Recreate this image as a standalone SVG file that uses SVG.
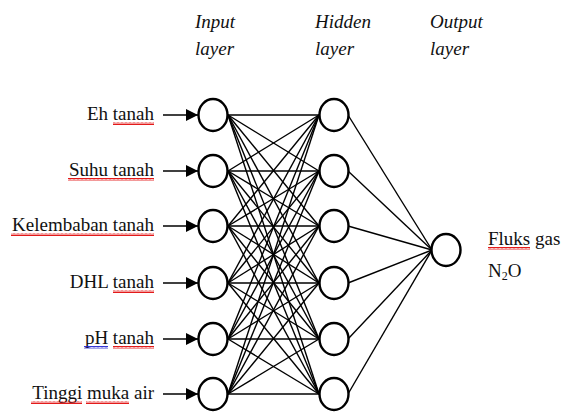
<svg xmlns="http://www.w3.org/2000/svg" width="563" height="415" viewBox="0 0 563 415">
<defs>
<style>
.lbl{font-size:19px;fill:#111;}
.hdr{font-size:19px;font-style:italic;fill:#111;}
.node{fill:#fff;stroke:#000;stroke-width:2.4;}
.conn line{stroke:#000;stroke-width:1.4;}
.arr{stroke:#000;stroke-width:1.6;}
</style>
<marker id="ah" viewBox="0 0 12 12" refX="12" refY="6" markerWidth="12" markerHeight="12" markerUnits="userSpaceOnUse" orient="auto">
<path d="M0,0 L12,6 L0,12 Z" fill="#000"/>
</marker>
<pattern id="wave" width="4" height="3" patternUnits="userSpaceOnUse">
<path d="M0,2.5 L1,0.5 L2,2.5 L3,0.5 L4,2.5" fill="none" stroke="#e00000" stroke-width="0.9"/>
</pattern>
<pattern id="waveb" width="4" height="3" patternUnits="userSpaceOnUse">
<path d="M0,2.5 L1,0.5 L2,2.5 L3,0.5 L4,2.5" fill="none" stroke="#2020d0" stroke-width="0.9"/>
</pattern>
</defs>
<rect width="563" height="415" fill="#fff"/>

<g id="headers" font-family="'Liberation Serif', 'Times New Roman', serif">
<text class="hdr" x="195" y="28">Input</text>
<text class="hdr" x="195" y="55">layer</text>
<text class="hdr" x="315" y="28">Hidden</text>
<text class="hdr" x="315" y="55">layer</text>
<text class="hdr" x="430" y="28">Output</text>
<text class="hdr" x="430" y="55">layer</text>
</g>

<g id="connectors" class="conn">
<line x1="228" y1="115" x2="319" y2="115"/><line x1="228" y1="115" x2="319" y2="171"/><line x1="228" y1="115" x2="319" y2="226"/><line x1="228" y1="115" x2="319" y2="283"/><line x1="228" y1="115" x2="319" y2="339"/><line x1="228" y1="115" x2="319" y2="394"/>
<line x1="228" y1="171" x2="319" y2="115"/><line x1="228" y1="171" x2="319" y2="171"/><line x1="228" y1="171" x2="319" y2="226"/><line x1="228" y1="171" x2="319" y2="283"/><line x1="228" y1="171" x2="319" y2="339"/><line x1="228" y1="171" x2="319" y2="394"/>
<line x1="228" y1="226" x2="319" y2="115"/><line x1="228" y1="226" x2="319" y2="171"/><line x1="228" y1="226" x2="319" y2="226"/><line x1="228" y1="226" x2="319" y2="283"/><line x1="228" y1="226" x2="319" y2="339"/><line x1="228" y1="226" x2="319" y2="394"/>
<line x1="228" y1="283" x2="319" y2="115"/><line x1="228" y1="283" x2="319" y2="171"/><line x1="228" y1="283" x2="319" y2="226"/><line x1="228" y1="283" x2="319" y2="283"/><line x1="228" y1="283" x2="319" y2="339"/><line x1="228" y1="283" x2="319" y2="394"/>
<line x1="228" y1="339" x2="319" y2="115"/><line x1="228" y1="339" x2="319" y2="171"/><line x1="228" y1="339" x2="319" y2="226"/><line x1="228" y1="339" x2="319" y2="283"/><line x1="228" y1="339" x2="319" y2="339"/><line x1="228" y1="339" x2="319" y2="394"/>
<line x1="228" y1="394" x2="319" y2="115"/><line x1="228" y1="394" x2="319" y2="171"/><line x1="228" y1="394" x2="319" y2="226"/><line x1="228" y1="394" x2="319" y2="283"/><line x1="228" y1="394" x2="319" y2="339"/><line x1="228" y1="394" x2="319" y2="394"/>
<line x1="348" y1="115" x2="432" y2="250"/><line x1="348" y1="171" x2="432" y2="250"/><line x1="348" y1="226" x2="432" y2="250"/><line x1="348" y1="283" x2="432" y2="250"/><line x1="348" y1="339" x2="432" y2="250"/><line x1="348" y1="394" x2="432" y2="250"/>
<line class="arr" x1="163" y1="115" x2="198" y2="115" marker-end="url(#ah)"/>
<line class="arr" x1="163" y1="171" x2="198" y2="171" marker-end="url(#ah)"/>
<line class="arr" x1="163" y1="226" x2="198" y2="226" marker-end="url(#ah)"/>
<line class="arr" x1="163" y1="283" x2="198" y2="283" marker-end="url(#ah)"/>
<line class="arr" x1="163" y1="339" x2="198" y2="339" marker-end="url(#ah)"/>
<line class="arr" x1="163" y1="394" x2="198" y2="394" marker-end="url(#ah)"/>
</g>

<g font-family="'Liberation Serif', 'Times New Roman', serif">
<g id="input-1"><text class="lbl" x="154" y="120" text-anchor="end">Eh tanah</text><rect x="113" y="122" width="41" height="3" fill="url(#wave)"/><ellipse class="node" cx="213" cy="115" rx="14.5" ry="16"/></g>
<g id="input-2"><text class="lbl" x="154" y="176" text-anchor="end">Suhu tanah</text><rect x="68" y="178" width="86" height="3" fill="url(#wave)"/><ellipse class="node" cx="213" cy="171" rx="14.5" ry="16"/></g>
<g id="input-3"><text class="lbl" x="154" y="231" text-anchor="end">Kelembaban tanah</text><rect x="11" y="233" width="143" height="3" fill="url(#wave)"/><ellipse class="node" cx="213" cy="226" rx="14.5" ry="16"/></g>
<g id="input-4"><text class="lbl" x="154" y="288" text-anchor="end">DHL tanah</text><rect x="113" y="290" width="41" height="3" fill="url(#wave)"/><ellipse class="node" cx="213" cy="283" rx="14.5" ry="16"/></g>
<g id="input-5"><text class="lbl" x="154" y="344" text-anchor="end">pH tanah</text><rect x="84" y="346" width="24" height="3" fill="url(#waveb)"/><rect x="113" y="346" width="41" height="3" fill="url(#wave)"/><ellipse class="node" cx="213" cy="339" rx="14.5" ry="16"/></g>
<g id="input-6"><text class="lbl" x="154" y="399" text-anchor="end">Tinggi muka air</text><rect x="31" y="401" width="51" height="3" fill="url(#wave)"/><rect x="86" y="401" width="43" height="3" fill="url(#wave)"/><ellipse class="node" cx="213" cy="394" rx="14.5" ry="16"/></g>

<g id="hidden-1"><ellipse class="node" cx="334" cy="115" rx="14.5" ry="16"/></g>
<g id="hidden-2"><ellipse class="node" cx="334" cy="171" rx="14.5" ry="16"/></g>
<g id="hidden-3"><ellipse class="node" cx="334" cy="226" rx="14.5" ry="16"/></g>
<g id="hidden-4"><ellipse class="node" cx="334" cy="283" rx="14.5" ry="16"/></g>
<g id="hidden-5"><ellipse class="node" cx="334" cy="339" rx="14.5" ry="16"/></g>
<g id="hidden-6"><ellipse class="node" cx="334" cy="394" rx="14.5" ry="16"/></g>

<g id="output-1"><ellipse class="node" cx="446" cy="250" rx="14.5" ry="16"/>
<text class="lbl" x="488" y="245">Fluks gas</text><rect x="488" y="247" width="42" height="3" fill="url(#wave)"/>
<text class="lbl" x="488" y="277">N<tspan font-size="12" dy="3">2</tspan><tspan dy="-3">O</tspan></text>
</g>
</g>
</svg>
